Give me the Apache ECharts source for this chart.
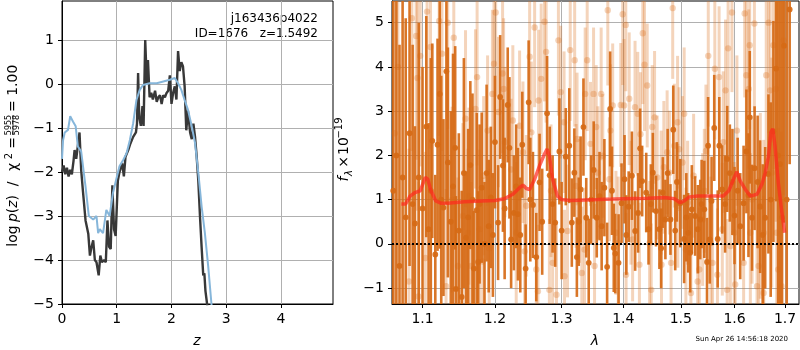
<!DOCTYPE html>
<html>
<head>
<meta charset="utf-8">
<script src="https://cdn.jsdelivr.net/npm/echarts@6/dist/echarts.min.js"></script>
<style>
html,body{margin:0;padding:0;background:#fff;}
#main{width:800px;height:350px;}
</style>
</head>
<body>
<div id="main"></div>
<script>
// left panel: log p(z), [z, log p]
var pzDark = [[0.00,-2.0],[0.03,-1.85],[0.06,-2.05],[0.09,-1.9],[0.12,-2.1],[0.15,-1.95],[0.18,-2.05],[0.21,-1.75],[0.23,-1.5],[0.26,-1.7],[0.29,-1.4],[0.32,-1.1],[0.35,-1.95],[0.38,-2.4],[0.43,-3.1],[0.48,-3.4],[0.51,-3.9],[0.54,-3.7],[0.57,-3.55],[0.60,-4.0],[0.63,-4.05],[0.67,-4.35],[0.70,-3.9],[0.73,-4.05],[0.77,-4.0],[0.80,-4.05],[0.83,-3.1],[0.86,-3.7],[0.89,-3.75],[0.92,-2.3],[0.95,-3.3],[0.98,-3.45],[1.02,-2.2],[1.05,-2.0],[1.10,-1.8],[1.13,-2.1],[1.16,-1.65],[1.21,-1.5],[1.25,-1.35],[1.30,-1.2],[1.35,-1.1],[1.37,-0.9],[1.39,0.25],[1.41,-0.75],[1.44,-0.95],[1.47,-0.5],[1.49,-0.95],[1.52,1.0],[1.55,0.0],[1.57,0.55],[1.60,-0.3],[1.63,-0.2],[1.66,-0.35],[1.70,-0.15],[1.73,-0.4],[1.76,-0.3],[1.79,-0.25],[1.82,-0.45],[1.85,-0.25],[1.88,-0.3],[1.91,-0.2],[1.94,-0.15],[1.97,0.2],[2.00,-0.45],[2.03,-0.2],[2.06,-0.05],[2.09,-0.35],[2.12,0.75],[2.15,0.3],[2.18,0.5],[2.21,0.4],[2.24,-0.05],[2.27,-1.05],[2.30,-0.6],[2.34,-1.1],[2.37,-1.25],[2.40,-0.9],[2.43,-1.2],[2.46,-1.65],[2.49,-2.2],[2.52,-3.0],[2.55,-3.7],[2.58,-4.35],[2.60,-4.3],[2.62,-4.7],[2.65,-5.0],[2.70,-5.8]];
var pzBlue = [[0.00,-1.7],[0.02,-1.27],[0.05,-1.1],[0.11,-1.04],[0.15,-0.73],[0.20,-0.85],[0.25,-0.96],[0.29,-1.42],[0.35,-1.53],[0.38,-1.57],[0.43,-2.33],[0.49,-3.0],[0.57,-3.08],[0.63,-3.0],[0.66,-3.39],[0.69,-3.3],[0.75,-3.39],[0.81,-2.86],[0.87,-3.0],[0.93,-2.48],[0.99,-2.17],[1.05,-1.87],[1.12,-1.72],[1.18,-1.57],[1.24,-1.27],[1.30,-0.89],[1.36,-0.36],[1.42,-0.13],[1.48,-0.02],[1.60,0.02],[1.73,0.02],[1.85,0.06],[1.97,0.1],[2.06,0.14],[2.12,0.02],[2.18,-0.13],[2.24,-0.36],[2.30,-0.58],[2.37,-0.96],[2.43,-1.34],[2.49,-2.02],[2.55,-2.78],[2.61,-3.39],[2.67,-4.14],[2.73,-5.0],[2.78,-5.7]];
var zTicks = [0, 1, 2, 3, 4];
var logpTicks = [-5, -4, -3, -2, -1, 0, 1];

// right panel: spectrum, [lambda, flux, error]
var lightPts = [[1.064,2.5,5.0],[1.068,4.0,4.5],[1.0822,-0.85,3.0],[1.086,5.1,3.0],[1.0916,4.7,2.8],[1.0933,3.75,3.0],[1.0947,-1.19,2.6],[1.097,4.25,2.5],[1.1037,-0.32,2.4],[1.106,5.25,2.5],[1.1106,4.45,2.3],[1.1222,5.04,2.6],[1.126,4.3,2.2],[1.1315,-0.96,2.2],[1.1338,5.0,2.4],[1.1398,1.0,2.1],[1.1421,4.66,2.3],[1.1477,-0.5,2.0],[1.1546,0.63,2.1],[1.1583,2.83,2.0],[1.1616,0.25,1.9],[1.163,1.08,2.0],[1.1662,-0.5,1.9],[1.1722,3.05,1.8],[1.1745,3.77,2.0],[1.1778,0.33,1.8],[1.1824,-0.4,1.9],[1.1838,1.54,1.8],[1.1894,2.56,1.7],[1.1917,-0.1,1.8],[1.1963,3.39,1.9],[1.1986,4.07,1.8],[1.201,5.23,1.9],[1.205,2.98,1.7],[1.211,3.85,1.8],[1.2125,3.5,1.6],[1.2145,2.3,1.7],[1.2235,1.68,1.6],[1.226,2.79,1.7],[1.231,0.25,1.6],[1.236,2.67,1.7],[1.241,2.07,1.6],[1.2435,-0.17,1.5],[1.246,0.86,1.6],[1.251,4.23,1.7],[1.2535,2.52,1.6],[1.2585,4.89,1.8],[1.261,-0.58,1.6],[1.2635,-1.07,1.5],[1.2645,3.24,1.6],[1.2685,3.73,1.7],[1.2735,5.02,1.8],[1.276,4.34,1.6],[1.281,-1.04,1.6],[1.2835,1.2,1.5],[1.286,-0.43,1.5],[1.292,-1.15,1.6],[1.295,4.6,1.7],[1.2985,3.43,1.5],[1.3038,2.75,1.6],[1.3045,-0.73,1.5],[1.3092,0.29,1.5],[1.3135,4.38,1.6],[1.3205,4.15,1.5],[1.3227,1.31,1.4],[1.3243,2.37,1.5],[1.3281,0.97,1.4],[1.3319,-0.66,1.5],[1.3362,-0.13,1.4],[1.3373,3.39,1.5],[1.3405,4.15,1.6],[1.3459,2.26,1.4],[1.3508,3.39,1.5],[1.3524,-0.5,1.4],[1.3551,2.64,1.4],[1.3578,1.61,1.5],[1.3632,3.39,1.5],[1.3659,1.99,1.4],[1.3741,5.28,1.7],[1.3768,1.46,1.4],[1.3784,2.56,1.5],[1.3822,3.13,1.4],[1.3876,0.25,1.4],[1.3914,0.02,1.5],[1.3957,3.14,1.4],[1.3989,5.19,1.6],[1.4012,3.13,1.5],[1.4041,4.95,1.5],[1.4046,-0.7,1.4],[1.4099,3.28,1.5],[1.4128,0.93,1.4],[1.4157,0.1,1.4],[1.4198,3.09,1.5],[1.4244,2.94,1.4],[1.4273,-0.47,1.4],[1.4291,2.48,1.4],[1.4331,4.76,1.6],[1.436,4.05,1.5],[1.4407,3.58,1.4],[1.4448,0.02,1.4],[1.4477,-1.04,1.5],[1.4494,2.64,1.4],[1.4535,2.86,1.5],[1.4581,1.5,1.4],[1.4651,1.16,1.4],[1.4656,-0.47,1.4],[1.4698,1.73,1.5],[1.4756,2.07,1.4],[1.4797,1.61,1.4],[1.4826,-0.43,1.4],[1.4855,5.33,1.6],[1.4884,2.22,1.4],[1.4942,2.75,1.5],[1.4947,0.86,1.4],[1.4971,2.14,1.4],[1.5031,1.84,1.5],[1.5061,2.94,1.5],[1.5092,-0.13,1.4],[1.5123,0.93,1.4],[1.5184,-1.11,1.5],[1.5233,1.54,1.4],[1.5307,-0.85,1.5],[1.5337,-0.58,1.4],[1.5399,0.55,1.5],[1.543,1.2,1.4],[1.546,2.1,1.5],[1.5503,4.25,1.6],[1.5552,0.02,1.5],[1.5583,-0.43,1.5],[1.5626,3.96,1.6],[1.5675,-0.7,1.5],[1.5706,3.77,1.6],[1.5767,0.33,1.5],[1.5785,2.3,1.6],[1.5828,3.47,1.6],[1.5859,-1.04,1.6],[1.5877,4.42,1.7],[1.592,-0.05,1.6],[1.5951,5.23,1.8],[1.5994,0.25,1.6],[1.6013,-0.92,1.7],[1.6046,2.56,1.7],[1.6176,-0.43,1.8],[1.6196,5.21,1.9],[1.6229,3.81,1.8],[1.6275,3.5,1.8],[1.6294,4.49,1.9],[1.6307,0.25,1.8],[1.634,1.0,1.9],[1.6386,4.98,2.0],[1.6438,-0.96,2.0],[1.647,-0.5,2.0],[1.6503,0.86,2.1],[1.6569,-1.11,2.2],[1.657,0.25,2.1],[1.6621,3.81,2.3],[1.6667,5.0,2.5],[1.6699,3.47,2.5],[1.6732,1.61,2.6],[1.6765,4.49,2.8],[1.6817,3.5,3.0],[1.683,0.25,3.0],[1.6863,-0.58,3.2],[1.6928,-0.96,3.5],[1.6974,4.6,3.5]];
var darkPts = [[1.062,1.2,6.0],[1.066,2.0,5.5],[1.070,-0.5,5.0],[1.074,1.5,6.0],[1.078,0.6,4.5],[1.083,2.5,3.0],[1.087,0.9,3.6],[1.090,0.46,2.2],[1.095,1.5,3.5],[1.100,0.8,3.2],[1.105,2.65,2.5],[1.108,0.33,2.4],[1.111,1.2,3.0],[1.113,2.33,2.2],[1.117,-0.24,1.8],[1.120,2.24,2.4],[1.123,3.39,3.5],[1.125,1.0,2.8],[1.128,0.82,2.0],[1.132,3.9,3.0],[1.134,1.84,2.6],[1.138,0.5,2.5],[1.141,1.3,3.0],[1.144,2.17,2.3],[1.145,-1.02,2.1],[1.149,0.3,2.2],[1.153,-1.2,2.4],[1.156,1.6,2.6],[1.159,0.14,1.5],[1.162,0.6,2.0],[1.165,1.78,1.9],[1.168,1.0,2.4],[1.170,-0.56,1.3],[1.174,0.76,2.2],[1.176,-0.41,1.6],[1.178,0.9,1.8],[1.181,1.27,1.7],[1.185,0.0,1.4],[1.188,1.6,2.0],[1.191,0.4,1.5],[1.194,1.05,1.6],[1.197,0.2,1.4],[1.200,2.3,1.5],[1.2045,0.48,1.3],[1.2075,3.32,1.4],[1.2115,1.77,1.5],[1.214,0.8,1.6],[1.2185,3.14,1.3],[1.221,2.17,1.6],[1.2235,0.1,1.1],[1.2275,0.7,1.3],[1.231,1.3,1.4],[1.2335,0.67,1.5],[1.237,0.2,1.3],[1.240,2.24,1.2],[1.245,-0.56,1.0],[1.2495,3.2,1.4],[1.252,1.0,1.4],[1.256,0.88,1.2],[1.261,-0.3,1.0],[1.266,1.39,1.1],[1.270,0.5,1.2],[1.2775,2.95,1.3],[1.2815,1.55,1.1],[1.286,0.9,1.1],[1.290,0.48,1.0],[1.2965,2.09,1.2],[1.300,0.3,1.1],[1.3065,1.97,1.1],[1.312,2.22,1.3],[1.316,0.48,1.0],[1.320,1.61,1.0],[1.324,-0.3,0.9],[1.327,0.5,1.0],[1.330,1.23,1.2],[1.3345,2.64,1.1],[1.339,0.59,0.9],[1.343,-0.43,1.0],[1.347,1.0,1.0],[1.351,1.67,1.1],[1.356,0.59,0.9],[1.3605,1.08,1.0],[1.364,0.4,1.0],[1.3685,1.27,1.1],[1.373,-0.52,1.0],[1.378,3.05,1.3],[1.381,1.2,1.0],[1.384,-0.09,1.0],[1.3865,-0.22,0.9],[1.392,-0.43,1.1],[1.397,0.92,0.9],[1.402,1.46,1.0],[1.405,0.2,0.9],[1.409,0.84,0.8],[1.4145,1.54,1.0],[1.420,0.29,0.9],[1.425,0.7,0.9],[1.4285,2.16,0.9],[1.432,1.42,0.8],[1.439,1.16,0.9],[1.443,0.33,0.8],[1.447,0.9,0.9],[1.4505,1.61,0.9],[1.456,0.74,0.8],[1.462,0.33,0.9],[1.465,-0.1,0.9],[1.468,1.16,0.8],[1.4725,0.55,0.9],[1.4765,1.6,1.0],[1.4815,0.55,0.8],[1.4865,2.58,1.0],[1.490,0.3,0.9],[1.493,1.4,0.9],[1.499,0.92,1.0],[1.506,0.11,1.0],[1.510,0.6,1.0],[1.5135,0.25,0.9],[1.517,-0.2,0.9],[1.520,0.78,1.0],[1.526,0.63,0.9],[1.531,0.33,1.0],[1.5355,0.55,0.9],[1.538,0.9,1.0],[1.543,0.78,1.1],[1.548,-0.41,1.0],[1.550,2.22,1.1],[1.553,0.1,1.0],[1.5565,0.97,1.0],[1.5615,2.62,1.2],[1.568,0.11,1.1],[1.571,2.22,1.1],[1.5765,1.23,1.0],[1.582,0.9,1.1],[1.586,1.92,1.2],[1.591,1.6,1.1],[1.596,1.4,1.2],[1.600,0.64,1.1],[1.606,1.2,1.2],[1.611,0.4,1.2],[1.6175,0.92,1.3],[1.623,2.09,1.4],[1.627,1.1,1.4],[1.6295,2.86,1.5],[1.634,0.59,1.2],[1.639,1.71,1.4],[1.645,1.4,1.5],[1.650,0.84,1.5],[1.655,0.2,1.6],[1.660,0.59,1.6],[1.6665,1.58,1.8],[1.671,1.0,2.2],[1.6765,2.54,2.5],[1.682,3.96,3.0],[1.686,2.0,4.0],[1.690,1.8,5.0],[1.694,0.6,5.5],[1.698,4.48,4.0],[1.7035,1.0,6.0],[1.7095,5.3,3.5]];
var modelPts = [[1.0724,0.9],[1.078,0.9],[1.0836,1.08],[1.0902,1.16],[1.0969,1.2],[1.1037,1.5],[1.107,1.46],[1.1106,1.23],[1.1176,0.97],[1.1245,0.92],[1.1338,0.92],[1.1569,0.95],[1.1801,0.97],[1.2,0.98],[1.2135,1.02],[1.226,1.12],[1.236,1.27],[1.241,1.33],[1.246,1.25],[1.251,1.23],[1.2585,1.46],[1.266,1.77],[1.2735,2.03],[1.2775,2.14],[1.281,1.99],[1.286,1.46],[1.2935,1.08],[1.3,1.0],[1.3146,0.98],[1.3578,1.0],[1.4,1.02],[1.4419,1.03],[1.4709,1.05],[1.4884,1.02],[1.4988,0.93],[1.5061,0.97],[1.5153,1.06],[1.5307,1.08],[1.5613,1.08],[1.5785,1.08],[1.589,1.2],[1.598,1.46],[1.6046,1.63],[1.6111,1.42],[1.6209,1.23],[1.6307,1.08],[1.6438,1.12],[1.6536,1.35],[1.6601,1.61],[1.6667,1.99],[1.6712,2.52],[1.6752,2.6],[1.6797,2.22],[1.6863,1.39],[1.6928,0.78],[1.6993,0.25]];
var lamTicks = [1.1, 1.2, 1.3, 1.4, 1.5, 1.6, 1.7];
var fluxTicks = [-1, 0, 1, 2, 3, 4, 5];

var FONT = 'DejaVu Sans';
var GRIDC = '#b0b0b0';

function minus(v) {
	return String(v).replace('-', '\u2212');
}

// error bar + dot, clipped to the plot box
function errRender(w, r, color) {
	return function (params, api) {
		var x = api.value(0), f = api.value(1), e = api.value(2);
		var c = api.coord([x, f]);
		var hi = api.coord([x, f + e]);
		var lo = api.coord([x, f - e]);
		var cs = params.coordSys;
		var box = {x: cs.x, y: cs.y, width: cs.width, height: cs.height};
		var bar = echarts.graphic.clipRectByRect({x: c[0] - w / 2, y: hi[1], width: w, height: lo[1] - hi[1]}, box);
		var kids = [];
		if (bar) kids.push({type: 'rect', shape: bar, style: {fill: color}});
		if (c[1] >= cs.y && c[1] <= cs.y + cs.height) {
			kids.push({type: 'circle', shape: {cx: c[0], cy: c[1], r: r}, style: {fill: color}});
		}
		return {type: 'group', children: kids};
	};
}

function toLn(p) {
	var out = [Math.log(p[0])];
	for (var i = 1; i < p.length; i++) out.push(p[i]);
	return out;
}

function axisBase(extra) {
	var a = {
		type: 'value',
		axisLine: {show: true, onZero: false, lineStyle: {color: '#000', width: 1}},
		axisTick: {show: true, length: 4, lineStyle: {color: '#000', width: 1}},
		axisLabel: {color: '#000', fontSize: 14, fontFamily: FONT, margin: 8, formatter: minus},
		splitLine: {show: true, lineStyle: {color: GRIDC, width: 1}}
	};
	for (var k in extra) {
		if (typeof extra[k] === 'object' && a[k]) {
			for (var j in extra[k]) a[k][j] = extra[k][j];
		} else {
			a[k] = extra[k];
		}
	}
	return a;
}

function txt(x, y, text, size, opt) {
	opt = opt || {};
	var st = {
		text: text, fontSize: size, fontFamily: FONT, fill: '#000',
		align: opt.align || 'center', textAlign: opt.align || 'center',
		verticalAlign: 'middle', textVerticalAlign: 'middle'
	};
	if (opt.italic) st.fontStyle = 'italic';
	if (opt.rich) st.rich = opt.rich;
	return {type: 'text', x: x, y: y, style: st};
}

var myChart = echarts.init(document.getElementById('main'));
var option = {
	animation: false,
	textStyle: {fontFamily: FONT},
	grid: [
		{left: 62, top: 1, width: 271, height: 303, show: true, borderColor: '#000', borderWidth: 1, backgroundColor: 'transparent'},
		{left: 392, top: 1, width: 407, height: 303, show: true, borderColor: '#000', borderWidth: 1, backgroundColor: 'transparent'}
	],
	xAxis: [
		axisBase({gridIndex: 0, min: 0, max: 4.95,
			axisTick: {customValues: zTicks},
			axisLabel: {customValues: zTicks}}),
		axisBase({gridIndex: 1, min: Math.log(1.0604), max: Math.log(1.7288),
			axisTick: {customValues: lamTicks.map(Math.log)},
			axisLabel: {customValues: lamTicks.map(Math.log), formatter: function (v) { return Math.exp(v).toFixed(1); }}})
	],
	yAxis: [
		axisBase({gridIndex: 0, min: -5, max: 1.89,
			axisTick: {customValues: logpTicks},
			axisLabel: {customValues: logpTicks}}),
		axisBase({gridIndex: 1, min: -1.36, max: 5.49,
			axisTick: {customValues: fluxTicks},
			axisLabel: {customValues: fluxTicks}})
	],
	series: [
		{
			type: 'line', xAxisIndex: 0, yAxisIndex: 0, data: pzDark,
			showSymbol: false, symbol: 'none',
			lineStyle: {color: '#383838', width: 2.4}
		},
		{
			type: 'line', xAxisIndex: 0, yAxisIndex: 0, data: pzBlue,
			showSymbol: false, symbol: 'none',
			lineStyle: {color: '#86b6da', width: 2}
		},
		{
			type: 'custom', xAxisIndex: 1, yAxisIndex: 1,
			renderItem: errRender(3, 3.2, 'rgba(217,112,30,0.3)'),
			encode: {x: 0, y: 1},
			data: lightPts.map(toLn)
		},
		{
			type: 'custom', xAxisIndex: 1, yAxisIndex: 1,
			renderItem: errRender(2.6, 2.9, 'rgba(214,106,22,0.92)'),
			encode: {x: 0, y: 1},
			data: darkPts.map(toLn)
		},
		{
			type: 'line', xAxisIndex: 1, yAxisIndex: 1, data: modelPts.map(toLn),
			showSymbol: false, symbol: 'none', z: 5,
			lineStyle: {color: 'rgba(255,40,30,0.7)', width: 3.5},
			markLine: {
				silent: true, symbol: 'none', label: {show: false},
				lineStyle: {color: '#000', type: [2, 2], width: 2},
				data: [{yAxis: 0}]
			}
		}
	],
	graphic: [
		txt(318, 19, 'j163436p4022', 12, {align: 'right'}),
		txt(318, 34, 'ID=1676   z=1.5492', 12, {align: 'right'}),
		txt(197, 341, 'z', 14, {italic: true}),
		txt(595, 341, '\u03bb', 14, {italic: true}),
		txt(788, 339, 'Sun Apr 26 14:56:18 2020', 7, {align: 'right'}),
		{
			type: 'group', x: 13.5, y: 247, rotation: Math.PI / 2,
			children: [
				txt(11, 0, 'log', 14),
				txt(38.5, 0, '{i|p}({i|z})', 14, {rich: {i: {fontStyle: 'italic', fontSize: 14, fontFamily: FONT}}}),
				txt(63, 0, '/', 14),
				txt(80, 0, '\u03c7', 14),
				txt(91, -4.5, '2', 10),
				txt(104, 0, '=', 14),
				txt(122, -4.5, '5955', 8),
				{type: 'line', shape: {x1: 112, y1: -0.5, x2: 132, y2: -0.5}, style: {stroke: '#000', lineWidth: 0.8}},
				txt(122, 3.8, '5978', 8),
				txt(135, 0, '= 1.00', 14, {align: 'left'})
			]
		},
		{
			type: 'group', x: 344, y: 184, rotation: Math.PI / 2,
			children: [
				txt(5, 0, 'f', 14, {italic: true}),
				txt(11, 5, '\u03bb', 10, {italic: true}),
				txt(22, 0, '\u00d7', 14),
				txt(38, 0, '10', 14),
				txt(56, -5, '\u221219', 10)
			]
		}
	]
};
if (option && typeof option === 'object') {
	myChart.setOption(option, true);
}
</script>
</body>
</html>
